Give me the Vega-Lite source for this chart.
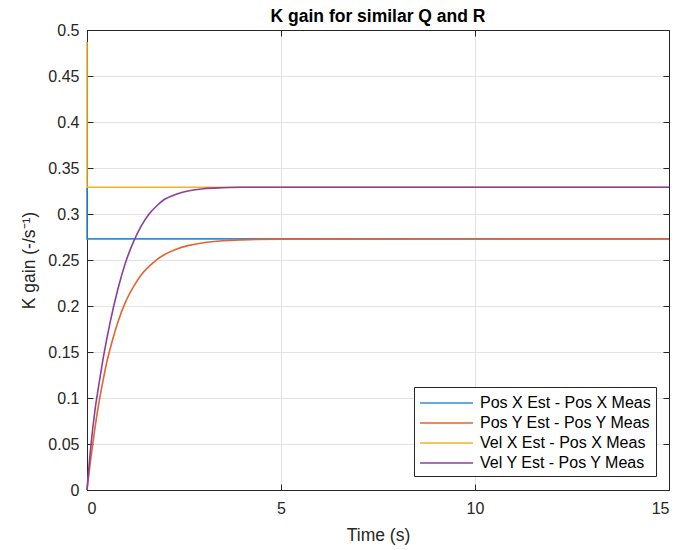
{
  "$schema": "https://vega.github.io/schema/vega-lite/v6.json",
  "width": 582,
  "height": 460,
  "autosize": "none",
  "padding": {"left": 87, "top": 30, "right": 29, "bottom": 60},
  "background": "white",
  "config": {
    "font": "Liberation Sans",
    "view": {"stroke": null},
    "axis": {
      "domainColor": "#262626",
      "tickColor": "#262626",
      "labelColor": "#262626",
      "titleColor": "#262626",
      "gridColor": "#e3e3e3",
      "gridWidth": 1,
      "labelFont": "Liberation Sans",
      "titleFont": "Liberation Sans",
      "labelFontSize": 16,
      "titleFontSize": 17.5,
      "titleFontWeight": "normal",
      "tickSize": -6
    }
  },
  "title": {
    "text": "K gain for similar Q and R",
    "fontSize": 17.5,
    "fontWeight": "bold",
    "font": "Liberation Sans",
    "color": "#000000",
    "offset": -3
  },
  "data": {
    "values": [
      {"s": "Pos X Est - Pos X Meas", "i": 0, "t": 0, "k": 0.329},
      {"s": "Pos X Est - Pos X Meas", "i": 1, "t": 0, "k": 0.273},
      {"s": "Pos X Est - Pos X Meas", "i": 2, "t": 15, "k": 0.273},

      {"s": "Pos Y Est - Pos Y Meas", "i": 0, "t": 0, "k": 0},
      {"s": "Pos Y Est - Pos Y Meas", "i": 1, "t": 0.1, "k": 0.035},
      {"s": "Pos Y Est - Pos Y Meas", "i": 2, "t": 0.2, "k": 0.066},
      {"s": "Pos Y Est - Pos Y Meas", "i": 3, "t": 0.3, "k": 0.093},
      {"s": "Pos Y Est - Pos Y Meas", "i": 4, "t": 0.4, "k": 0.116},
      {"s": "Pos Y Est - Pos Y Meas", "i": 5, "t": 0.5, "k": 0.137},
      {"s": "Pos Y Est - Pos Y Meas", "i": 6, "t": 0.6, "k": 0.154},
      {"s": "Pos Y Est - Pos Y Meas", "i": 7, "t": 0.8, "k": 0.183},
      {"s": "Pos Y Est - Pos Y Meas", "i": 8, "t": 1.0, "k": 0.205},
      {"s": "Pos Y Est - Pos Y Meas", "i": 9, "t": 1.2, "k": 0.221},
      {"s": "Pos Y Est - Pos Y Meas", "i": 10, "t": 1.4, "k": 0.234},
      {"s": "Pos Y Est - Pos Y Meas", "i": 11, "t": 1.6, "k": 0.243},
      {"s": "Pos Y Est - Pos Y Meas", "i": 12, "t": 1.8, "k": 0.2505},
      {"s": "Pos Y Est - Pos Y Meas", "i": 13, "t": 2.0, "k": 0.256},
      {"s": "Pos Y Est - Pos Y Meas", "i": 14, "t": 2.3, "k": 0.2618},
      {"s": "Pos Y Est - Pos Y Meas", "i": 15, "t": 2.6, "k": 0.2656},
      {"s": "Pos Y Est - Pos Y Meas", "i": 16, "t": 3.0, "k": 0.2688},
      {"s": "Pos Y Est - Pos Y Meas", "i": 17, "t": 3.5, "k": 0.2709},
      {"s": "Pos Y Est - Pos Y Meas", "i": 18, "t": 4.0, "k": 0.2719},
      {"s": "Pos Y Est - Pos Y Meas", "i": 19, "t": 5.0, "k": 0.2727},
      {"s": "Pos Y Est - Pos Y Meas", "i": 20, "t": 15, "k": 0.273},

      {"s": "Vel X Est - Pos X Meas", "i": 0, "t": 0, "k": 0.487},
      {"s": "Vel X Est - Pos X Meas", "i": 1, "t": 0, "k": 0.329},
      {"s": "Vel X Est - Pos X Meas", "i": 2, "t": 15, "k": 0.329},

      {"s": "Vel Y Est - Pos Y Meas", "i": 0, "t": 0, "k": 0},
      {"s": "Vel Y Est - Pos Y Meas", "i": 1, "t": 0.1, "k": 0.048},
      {"s": "Vel Y Est - Pos Y Meas", "i": 2, "t": 0.2, "k": 0.085},
      {"s": "Vel Y Est - Pos Y Meas", "i": 3, "t": 0.3, "k": 0.113},
      {"s": "Vel Y Est - Pos Y Meas", "i": 4, "t": 0.4, "k": 0.139},
      {"s": "Vel Y Est - Pos Y Meas", "i": 5, "t": 0.5, "k": 0.162},
      {"s": "Vel Y Est - Pos Y Meas", "i": 6, "t": 0.6, "k": 0.183},
      {"s": "Vel Y Est - Pos Y Meas", "i": 7, "t": 0.8, "k": 0.219},
      {"s": "Vel Y Est - Pos Y Meas", "i": 8, "t": 1.0, "k": 0.248},
      {"s": "Vel Y Est - Pos Y Meas", "i": 9, "t": 1.2, "k": 0.27},
      {"s": "Vel Y Est - Pos Y Meas", "i": 10, "t": 1.4, "k": 0.287},
      {"s": "Vel Y Est - Pos Y Meas", "i": 11, "t": 1.6, "k": 0.3},
      {"s": "Vel Y Est - Pos Y Meas", "i": 12, "t": 1.8, "k": 0.309},
      {"s": "Vel Y Est - Pos Y Meas", "i": 13, "t": 2.0, "k": 0.316},
      {"s": "Vel Y Est - Pos Y Meas", "i": 14, "t": 2.3, "k": 0.3215},
      {"s": "Vel Y Est - Pos Y Meas", "i": 15, "t": 2.6, "k": 0.325},
      {"s": "Vel Y Est - Pos Y Meas", "i": 16, "t": 3.0, "k": 0.3275},
      {"s": "Vel Y Est - Pos Y Meas", "i": 17, "t": 3.5, "k": 0.3285},
      {"s": "Vel Y Est - Pos Y Meas", "i": 18, "t": 4.0, "k": 0.329},
      {"s": "Vel Y Est - Pos Y Meas", "i": 19, "t": 5.0, "k": 0.329},
      {"s": "Vel Y Est - Pos Y Meas", "i": 20, "t": 15, "k": 0.329}
    ]
  },
  "layer": [
    {
      "mark": {"type": "line", "strokeWidth": 1.6, "interpolate": "monotone"},
      "encoding": {
        "x": {
          "field": "t", "type": "quantitative",
          "scale": {"domain": [0, 15], "nice": false, "zero": false},
          "axis": {"title": "Time (s)", "values": [0, 5, 10, 15], "labelPadding": 16, "titlePadding": 10, "orient": "bottom"}
        },
        "y": {
          "field": "k", "type": "quantitative",
          "scale": {"domain": [0, 0.5], "nice": false},
          "axis": {
            "title": "K gain (-/s⁻¹)",
            "values": [0, 0.05, 0.1, 0.15, 0.2, 0.25, 0.3, 0.35, 0.4, 0.45, 0.5],
            "format": "~g",
            "labelPadding": 14,
            "titlePadding": 9,
            "orient": "left"
          }
        },
        "order": {"field": "i", "type": "quantitative"},
        "color": {
          "field": "s", "type": "nominal",
          "scale": {
            "domain": ["Pos X Est - Pos X Meas", "Pos Y Est - Pos Y Meas", "Vel X Est - Pos X Meas", "Vel Y Est - Pos Y Meas"],
            "range": ["#2F8FD6", "#E2652E", "#F0B429", "#8A3F9C"]
          },
          "legend": {
            "title": null,
            "orient": "none",
            "legendX": 327,
            "legendY": 357,
            "symbolType": "M-1,0H4.3",
            "symbolSize": 400,
            "symbolStrokeWidth": 1.6,
            "labelFontSize": 16,
            "labelFont": "Liberation Sans",
            "labelColor": "#000000",
            "labelOffset": 39,
            "labelLimit": 400,
            "rowPadding": 1,
            "padding": 5,
            "strokeColor": "#262626",
            "fillColor": "white"
          }
        }
      }
    },
    {
      "mark": {"type": "line", "opacity": 0},
      "encoding": {
        "x": {
          "field": "t", "type": "quantitative",
          "axis": {"orient": "top", "title": null, "labels": false, "grid": false, "values": [0, 5, 10, 15]}
        },
        "y": {
          "field": "k", "type": "quantitative",
          "axis": {"orient": "right", "title": null, "labels": false, "grid": false, "values": [0, 0.05, 0.1, 0.15, 0.2, 0.25, 0.3, 0.35, 0.4, 0.45, 0.5]}
        },
        "detail": {"field": "s"}
      }
    }
  ],
  "resolve": {"axis": {"x": "independent", "y": "independent"}}
}
